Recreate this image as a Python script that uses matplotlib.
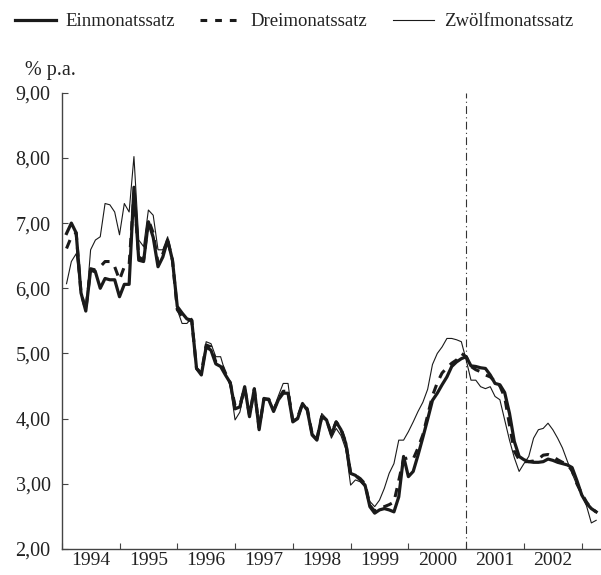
import numpy as np
import matplotlib
matplotlib.use("Agg")
import matplotlib.pyplot as plt
from matplotlib.ticker import FixedLocator, FuncFormatter

plt.rcParams['font.family'] = ['Liberation Serif', 'DejaVu Serif']

# monthly rates, Jan 1994 .. Mar 2003 (% p.a.)
start_year = 1994
years = list(range(1994, 2003))
yticks = [2, 3, 4, 5, 6, 7, 8, 9]

ein = [6.84, 7.00, 6.85, 5.93, 5.65, 6.28, 6.25, 6.00, 6.15, 6.13, 6.13, 5.87,
       6.06, 6.06, 7.55, 6.43, 6.41, 7.02, 6.78, 6.33, 6.48, 6.74, 6.43, 5.72,
       5.62, 5.53, 5.51, 4.77, 4.67, 5.10, 5.05, 4.84, 4.80, 4.67, 4.55, 4.15,
       4.18, 4.49, 4.03, 4.46, 3.83, 4.31, 4.29, 4.11, 4.29, 4.39, 4.39, 3.95,
       4.00, 4.23, 4.13, 3.75, 3.67, 4.03, 3.98, 3.75, 3.95, 3.83, 3.62, 3.16,
       3.13, 3.06, 2.98, 2.65, 2.55, 2.60, 2.62, 2.60, 2.57, 2.80, 3.42, 3.11,
       3.19, 3.44, 3.71, 3.99, 4.28, 4.39, 4.52, 4.64, 4.80, 4.87, 4.92, 4.95,
       4.81, 4.80, 4.78, 4.77, 4.67, 4.54, 4.52, 4.40, 4.08, 3.65, 3.42, 3.37,
       3.34, 3.33, 3.33, 3.34, 3.38, 3.36, 3.33, 3.31, 3.29, 3.25, 3.05, 2.83,
       2.70, 2.62, 2.57]

drei = [6.61, 6.79, 6.85, 5.93, 5.67, 6.30, 6.28, 6.33, 6.41, 6.41, 6.33, 6.13,
        6.33, 6.36, 7.45, 6.48, 6.43, 7.05, 6.85, 6.38, 6.53, 6.74, 6.43, 5.67,
        5.57, 5.51, 5.51, 4.77, 4.70, 5.13, 5.10, 4.87, 4.87, 4.70, 4.55, 4.20,
        4.20, 4.47, 4.05, 4.45, 3.86, 4.30, 4.30, 4.13, 4.30, 4.42, 4.42, 3.97,
        4.02, 4.23, 4.15, 3.77, 3.69, 4.03, 3.98, 3.77, 3.95, 3.85, 3.63, 3.16,
        3.13, 3.08, 3.00, 2.67, 2.58, 2.63, 2.65, 2.68, 2.72, 3.05, 3.38, 3.40,
        3.38, 3.55, 3.75, 4.05, 4.35, 4.55, 4.70, 4.78, 4.85, 4.90, 5.00, 4.95,
        4.80, 4.75, 4.72, 4.67, 4.64, 4.57, 4.50, 4.33, 3.90, 3.50, 3.37, 3.34,
        3.34, 3.35, 3.38, 3.44, 3.45, 3.42, 3.37, 3.33, 3.30, 3.20, 3.00, 2.85,
        2.72, 2.62, 2.57]

zwoelf = [6.07, 6.41, 6.53, 5.93, 5.67, 6.59, 6.74, 6.79, 7.30, 7.28, 7.17, 6.82,
          7.30, 7.17, 8.02, 6.74, 6.64, 7.20, 7.12, 6.59, 6.59, 6.79, 6.43, 5.67,
          5.46, 5.46, 5.54, 4.75, 4.70, 5.18, 5.15, 4.95, 4.95, 4.70, 4.50, 3.98,
          4.10, 4.45, 4.05, 4.42, 3.88, 4.30, 4.30, 4.15, 4.35, 4.54, 4.54, 3.98,
          4.02, 4.25, 4.15, 3.78, 3.70, 4.08, 4.00, 3.70, 3.85, 3.74, 3.53, 2.98,
          3.06, 3.03, 2.95, 2.73, 2.65, 2.75, 2.93, 3.16, 3.31, 3.67, 3.67, 3.80,
          3.95, 4.11, 4.25, 4.45, 4.83, 5.00, 5.10, 5.23, 5.23, 5.21, 5.18, 4.90,
          4.59, 4.59, 4.49, 4.46, 4.49, 4.34, 4.29, 3.98, 3.67, 3.40, 3.19, 3.31,
          3.42, 3.70, 3.83, 3.85, 3.93, 3.83, 3.70, 3.55, 3.35, 3.16, 2.98, 2.85,
          2.66, 2.40, 2.44]

# month-end positions in decimal years
x = start_year + np.arange(1, len(ein) + 1) / 12.0

fig = plt.figure(figsize=(6.01, 5.75), dpi=100)
ax = fig.add_axes([0.1027, 0.0452, 0.8973, 0.7936])

dark = '#1a1a1a'
ax.plot(x, zwoelf, color=dark, lw=0.8, label='Zwölfmonatssatz', zorder=3)
ax.plot(x, drei, color=dark, lw=2.2, dashes=(3, 2.5), label='Dreimonatssatz', zorder=4)
ax.plot(x, ein, color=dark, lw=2.3, label='Einmonatssatz', zorder=5)

ax.axvline(2001.0, color='#333333', lw=0.8, linestyle=(0, (7, 3, 1, 3)), zorder=2)

ax.set_ylim(2, 9)
ax.set_xlim(1994, 1994 + (601 - 61.7) / 57.78)

for s in ['top', 'right']:
    ax.spines[s].set_visible(False)
for s in ['left', 'bottom']:
    ax.spines[s].set_color('#444444')
    ax.spines[s].set_linewidth(1.0)

ax.set_yticks(yticks)
ax.yaxis.set_major_formatter(FuncFormatter(lambda v, p: f"{v:.2f}".replace('.', ',')))
ax.tick_params(axis='y', direction='in', length=4, width=0.8, color='#444444',
               labelsize=14.5, pad=8, labelcolor='#222222')

ax.xaxis.set_major_locator(FixedLocator(list(range(1994, 2004))))
ax.xaxis.set_minor_locator(FixedLocator([y + 0.5 for y in years]))
ax.xaxis.set_major_formatter(FuncFormatter(lambda v, p: ''))
ax.xaxis.set_minor_formatter(FuncFormatter(lambda v, p: str(int(v))))
ax.tick_params(axis='x', which='major', direction='in', length=4, width=0.8, color='#444444')
ax.tick_params(axis='x', which='minor', length=0, labelsize=14, pad=2.5, labelcolor='#222222')

fig.text(0.042, 0.878, '% p.a.', fontsize=14.5, color='#222222', va='center', ha='left')

handles, labels = ax.get_legend_handles_labels()
order = [2, 1, 0]
leg = fig.legend([handles[i] for i in order], [labels[i] for i in order],
                 loc='center left', bbox_to_anchor=(0.012, 0.962), ncol=3, frameon=False,
                 fontsize=13.5, handlelength=2.2, handletextpad=0.5, columnspacing=1.35,
                 labelcolor='#222222', borderaxespad=0)
# legend sample for the dashed series shows two dashes
leg.legend_handles[1].set_dashes((2.2, 2.6))

fig.savefig('out.png', dpi=100)
